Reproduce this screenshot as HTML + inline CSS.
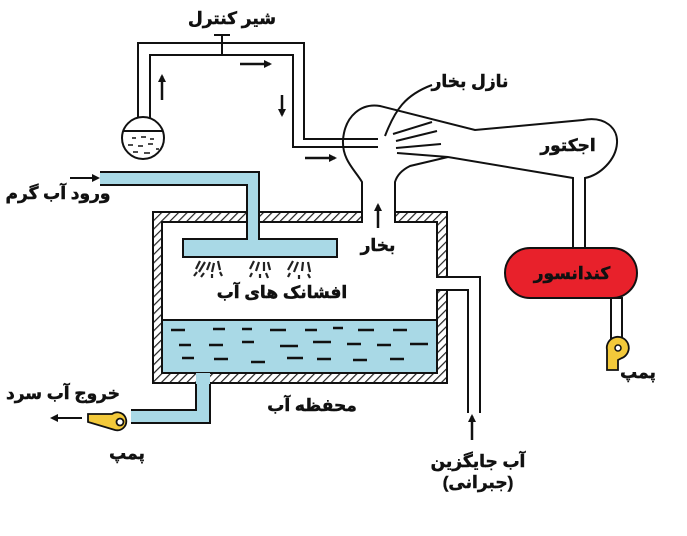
<!DOCTYPE html>
<html><head><meta charset="utf-8"><style>
html,body{margin:0;padding:0;background:#fff;}
svg{display:block;}
text{font-family:"Liberation Sans","Noto Sans CJK SC","DejaVu Sans",sans-serif;font-weight:bold;fill:#111;stroke:#111;stroke-width:0.5;}
</style></head><body>
<svg width="687" height="536" viewBox="0 0 687 536" xmlns="http://www.w3.org/2000/svg">
<defs>
<pattern id="h" width="6" height="6" patternUnits="userSpaceOnUse" patternTransform="rotate(45)">
<rect width="6" height="6" fill="#fff"/><line x1="0" y1="0" x2="0" y2="6" stroke="#222" stroke-width="2.4"/>
</pattern>
<marker id="a" markerWidth="8" markerHeight="8" refX="6" refY="4" orient="auto" markerUnits="userSpaceOnUse"><path d="M0,0 L8,4 L0,8 z" fill="#111"/></marker>
</defs>
<g stroke="#111" stroke-width="2" fill="none">
<path d="M153,212 H362 V222 H162 V373 H437 V290 H447 V383 H153 Z" fill="url(#h)"/>
<path d="M395,212 H447 V277 H437 V222 H395 Z" fill="url(#h)"/>
</g>
<rect x="163" y="320" width="273" height="52" fill="#a9d9e6"/>
<line x1="163" y1="320" x2="436" y2="320" stroke="#111" stroke-width="2"/>
<g stroke="#111" stroke-width="2.5">
<path d="M171,330h14 M213,329h12 M242,329h10 M270,330h16 M305,330h12 M333,328h10 M358,330h16 M393,330h14"/>
<path d="M179,345h12 M209,345h14 M242,342h12 M280,346h18 M313,342h18 M347,344h14 M377,345h14 M410,344h18"/>
<path d="M182,358h12 M214,359h14 M251,362h14 M287,358h16 M317,359h14 M353,360h14 M390,359h14"/>
</g>
<path d="M100,172 H259 V239 H337 V257 H183 V239 H247 V185 H100 Z" fill="#a9d9e6"/>
<path d="M100,172 H259 V239 H337 V257 H183 V239 H247 V185 H100" fill="none" stroke="#111" stroke-width="2"/>
<line x1="70" y1="178" x2="98" y2="178" stroke="#111" stroke-width="2" marker-end="url(#a)"/>
<g stroke="#222" stroke-width="2.2">
<path d="M200,261l-4,8 M205,262l-6,10 M210,262l-3,8 M214,263l-2,9 M218,261l2,9 M197,272l-3,4 M204,273l-3,4 M212,274l0,4 M220,272l2,4"/>
<path d="M254,261l-4,8 M259,262l-3,9 M264,262l0,9 M268,262l2,8 M252,273l-2,4 M260,274l0,4 M266,273l2,5"/>
<path d="M293,261l-5,9 M298,262l-4,10 M303,262l-1,9 M308,262l2,10 M290,273l-2,4 M299,275l0,4 M308,274l2,4"/>
</g>
<rect x="196" y="373" width="14" height="12" fill="#a9d9e6"/>
<path d="M196,384 H210 V423 H131 V410 H196 Z" fill="#a9d9e6"/>
<path d="M196,384 V410 H131 M210,384 V423 H131" fill="none" stroke="#111" stroke-width="2"/>
<path d="M88,414 H112 A9,9 0 1 1 115,430 L88,422 Z" fill="#f3c93a" stroke="#111" stroke-width="1.8"/>
<circle cx="120" cy="422" r="3.5" fill="#fff" stroke="#111" stroke-width="1.8"/>
<line x1="82" y1="418" x2="52" y2="418" stroke="#111" stroke-width="2" marker-end="url(#a)"/>
<g stroke="#111" stroke-width="2" fill="none">
<path d="M447,277 H480 V413 M437,290 H468 V413"/>
</g>
<line x1="472" y1="440" x2="472" y2="416" stroke="#111" stroke-width="2.5" marker-end="url(#a)"/>
<line x1="378" y1="228" x2="378" y2="205" stroke="#111" stroke-width="2.5" marker-end="url(#a)"/>
<g stroke="#111" stroke-width="2" fill="none">
<path d="M138,120 V43 H304 V139 H378 M150,118 V55 H293 V147 H378"/>
<path d="M222,55 V35 M214,35 H230"/>
<circle cx="143" cy="138" r="21" fill="#fff"/>
<path d="M123,131 H163"/>
</g>
<g stroke="#111" stroke-width="1.6"><path d="M132,138h4 M141,137h5 M150,139h4 M128,145h5 M138,146h5 M148,144h5 M133,152h5 M144,153h6 M156,149h3"/></g>
<line x1="240" y1="64" x2="270" y2="64" stroke="#111" stroke-width="2.5" marker-end="url(#a)"/>
<line x1="282" y1="95" x2="282" y2="115" stroke="#111" stroke-width="2.5" marker-end="url(#a)"/>
<line x1="162" y1="100" x2="162" y2="76" stroke="#111" stroke-width="2.5" marker-end="url(#a)"/>
<line x1="305" y1="158" x2="335" y2="158" stroke="#111" stroke-width="2.5" marker-end="url(#a)"/>
<g stroke="#111" stroke-width="2" fill="none">
<path d="M362,212 V182 C355,170 342,160 343,140 C345,115 362,103 380,106 Q395,110 475,130 L583,120 C605,116 618,128 617,143 C616,160 600,175 585,178 V250"/>
<path d="M395,212 V182 C397,175 402,170 410,166 L448,157 L573,178 V250"/>
<path d="M393,134 L432,122 M396,141 L437,131 M396,148 L441,144 M397,153 L448,157"/>
<path d="M385,136 C395,110 405,95 432,85"/>
</g>
<rect x="505" y="248" width="132" height="50" rx="25" fill="#e8212b" stroke="#111" stroke-width="2"/>
<rect x="611" y="298" width="11" height="42" fill="#fff" stroke="#111" stroke-width="2"/>
<path d="M607,370 V350 A11,11 0 1 1 622,358 L618,360 V370 Z" fill="#f3c93a" stroke="#111" stroke-width="1.8"/>
<circle cx="618" cy="348" r="3" fill="#fff" stroke="#111" stroke-width="1.5"/>
<g direction="rtl" text-anchor="middle" font-size="17">
<text x="232" y="24">شیر کنترل</text>
<text x="470" y="87">نازل بخار</text>
<text x="568" y="151">اجکتور</text>
<text x="58" y="199">ورود آب گرم</text>
<text x="378" y="251">بخار</text>
<text x="282" y="298">افشانک های آب</text>
<text x="572" y="279">کندانسور</text>
<text x="638" y="378">پمپ</text>
<text x="63" y="399">خروج آب سرد</text>
<text x="312" y="411">محفظه آب</text>
<text x="127" y="459">پمپ</text>
<text x="478" y="467">آب جایگزین</text>
<text x="478" y="488">(جبرانی)</text>
</g>
</svg>
</body></html>
